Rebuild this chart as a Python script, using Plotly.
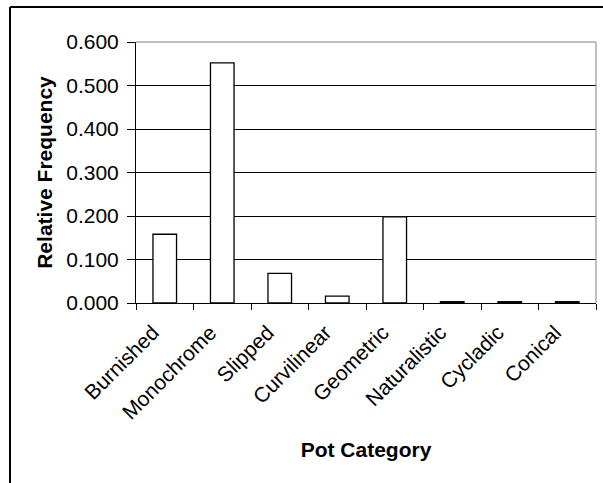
import plotly.graph_objects as go

categories = ["Burnished", "Monochrome", "Slipped", "Curvilinear", "Geometric",
              "Naturalistic", "Cycladic", "Conical"]
rel_freq = [0.158, 0.552, 0.068, 0.016, 0.198, 0.003, 0.003, 0.003]
y_ticks = [0.0, 0.1, 0.2, 0.3, 0.4, 0.5, 0.6]
y_tick_labels = ["0.000", "0.100", "0.200", "0.300", "0.400", "0.500", "0.600"]

W, H = 603, 483
L, R, T, B = 136, 7, 42, 180
PW, PH = W - L - R, H - T - B

def px(x):
    return (x - L) / PW

def py(y):
    return (T + PH - y) / PH

font = "Liberation Sans, Arial, sans-serif"

fig = go.Figure(go.Bar(
    x=categories, y=rel_freq,
    marker=dict(color="white", line=dict(color="black", width=1.3)),
))

fig.update_layout(
    width=W, height=H,
    margin=dict(l=L, r=R, t=T, b=B),
    paper_bgcolor="white", plot_bgcolor="white",
    bargap=0.59,
    showlegend=False,
    font=dict(family=font, size=21, color="black"),
    xaxis=dict(
        tickangle=-45, tickson="boundaries", ticks="outside", ticklen=6,
        tickcolor="black", showline=True, linecolor="black", linewidth=1,
        showgrid=False,
        ticklabelstandoff=8, ticklabelshift=-12,
        title=dict(text="<b>Pot Category</b>", font=dict(size=21), standoff=19),
        tickfont=dict(size=21),
    ),
    yaxis=dict(
        range=[0, 0.6], tickvals=y_ticks, ticktext=y_tick_labels,
        ticks="outside", ticklen=8, tickcolor="black",
        showline=True, linecolor="black", linewidth=1,
        showgrid=True, gridcolor="black", gridwidth=1, zeroline=False,
        ticklabelstandoff=4,
        title=dict(text="<b>Relative Frequency</b>", font=dict(size=21), standoff=7),
        tickfont=dict(size=21),
    ),
    shapes=[
        dict(type="line", xref="paper", yref="paper", x0=1, x1=1, y0=0, y1=1,
             line=dict(color="#808080", width=1)),
        dict(type="line", xref="paper", yref="paper", x0=0, x1=1, y0=1, y1=1,
             line=dict(color="#808080", width=1)),
        dict(type="line", xref="paper", yref="paper", x0=px(10), x1=px(610),
             y0=py(7), y1=py(7), line=dict(color="black", width=2)),
        dict(type="line", xref="paper", yref="paper", x0=px(10), x1=px(10),
             y0=py(7), y1=py(490), line=dict(color="black", width=2)),
    ],
)

fig.write_html("out.html", config={"displayModeBar": False},
               post_script="document.body.style.margin='0';")
